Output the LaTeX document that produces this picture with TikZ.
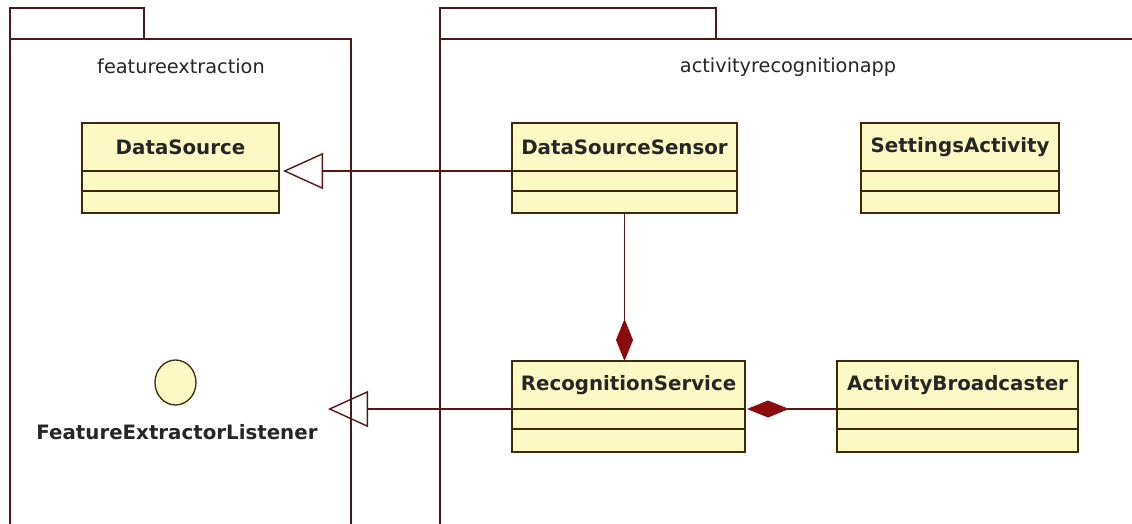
\documentclass[tikz,border=0pt]{standalone}
\usepackage{fontspec}
\setmainfont{DejaVu Sans}
\usetikzlibrary{arrows.meta,shapes.geometric}
\definecolor{pkgline}{HTML}{4A1A1A}
\definecolor{connline}{HTML}{5A1515}
\definecolor{clsline}{HTML}{3C2A0A}
\definecolor{clsfill}{HTML}{FDF9C4}
\definecolor{diam}{HTML}{8A0C0C}
\tikzset{
  pkg/.style={draw=pkgline, line width=1.4pt},
  pkglabel/.style={font=\fontsize{19.3}{22}\selectfont, text=black!85, inner sep=0pt},
  clstitle/.style={draw=clsline, fill=clsfill, line width=1.5pt, outer sep=0pt, inner sep=0pt,
     minimum height=48pt, font=\bfseries\fontsize{19.8}{22}\selectfont, text=black!85},
  clscomp/.style={draw=clsline, fill=clsfill, line width=1.5pt, outer sep=0pt, inner sep=0pt},
  conn/.style={draw=connline, line width=1.4pt},
  gen/.style={conn, -{Triangle[open, length=40pt, width=36pt]}},
  comp/.style={conn, -{Diamond[length=42pt, width=17pt, fill=diam, color=diam]}},
  iface/.style={ellipse, draw=clsline, fill=clsfill, line width=1.3pt, minimum width=41pt, minimum height=45pt, inner sep=0pt},
  ifacelabel/.style={font=\bfseries\fontsize{19.8}{22}\selectfont, text=black!85, inner sep=0pt}
}
\newcommand{\umlcls}[7]{% name, xleft, xright, ytop, text, h1, h2
  \node[clstitle, minimum width={#3-#2}, anchor=north west] (#1) at (#2,#4) {#5};
  \node[clscomp, minimum width={#3-#2}, minimum height=#6pt, anchor=north west] (#1-a) at (#1.south west) {};
  \node[clscomp, minimum width={#3-#2}, minimum height=#7pt, anchor=north west] (#1-o) at (#1-a.south west) {};
}
\begin{document}
\begin{tikzpicture}[x=1pt,y=-1pt]
\fill[white] (0,0) rectangle (1132,523);
\clip (0,0) rectangle (1132,523);
% packages
\draw[pkg] (10,39) -- (10,8) -- (144,8) -- (144,39);
\draw[pkg] (10,540) -- (10,39) -- (351,39) -- (351,540);
\node[pkglabel] (pfe) at (181,66) {featureextraction};
\draw[pkg] (440,39) -- (440,8) -- (716,8) -- (716,39);
\draw[pkg] (440,540) -- (440,39) -- (1150,39);
\node[pkglabel] (pra) at (788,67) {activityrecognitionapp};
% classes
\umlcls{ds}{82}{279}{123}{DataSource}{20}{22}
\umlcls{dss}{512}{737}{123}{DataSourceSensor}{20}{22}
\umlcls{sa}{861}{1059}{123}{SettingsActivity}{20}{22}
\umlcls{rs}{512}{745}{361}{RecognitionService}{20}{23}
\umlcls{ab}{837}{1078}{361}{ActivityBroadcaster}{20}{23}
% interface
\node[iface] (fel) at (175.5,382.5) {};
\node[ifacelabel] (fellabel) at (177,432) {FeatureExtractorListener};
\coordinate (feltip) at (328,409);
% connectors
\draw[gen] (dss.south west) -- ([xshift=4pt]ds.south east);
\draw[gen] (rs.south west) -- (feltip);
\draw[comp] (dss-o.south) -- (dss-o.south |- rs.north);
\draw[comp] (ab.south west) -- ([xshift=2pt]rs.south east);
\end{tikzpicture}
\end{document}
